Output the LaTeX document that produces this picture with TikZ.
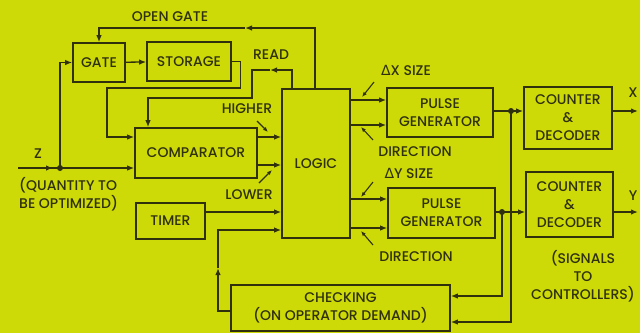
\documentclass[tikz,border=0pt]{standalone}
\usepackage{fontspec}
\setmainfont{Poppins}[UprightFont={* Medium}, BoldFont={* SemiBold}]
\newfontfamily\symfont{DejaVu Sans}
\usepackage{xcolor}
\usetikzlibrary{arrows.meta}
\definecolor{bg}{RGB}{205,218,8}
\definecolor{ink}{RGB}{48,48,12}

\begin{document}
\begin{tikzpicture}[
  x=1pt, y=-1pt, >={Latex[length=7pt,width=5.5pt]},
  font=\fontsize{14}{18}\selectfont, color=ink, text=ink,
  block/.style={draw, line width=1.6pt, align=center, inner sep=0pt},
  lbl/.style={inner sep=0pt, align=center},
  arrow/.style={->, line width=1.3pt},
  line/.style={line width=1.3pt},
  pointer/.style={->, line width=1.1pt, >={Latex[length=5pt,width=4pt]}},
  dot/.style={circle, fill=ink, inner sep=0pt, minimum size=6pt}
]
\fill[bg] (0,0) rectangle (640,333);
\useasboundingbox (0,0) rectangle (640,333);
% blocks
\node[block, minimum width=52pt, minimum height=39pt] (gate) at (99,62.5) {GATE};
\node[block, minimum width=84pt, minimum height=39pt] (storage) at (189,61.5) {STORAGE};
\node[block, minimum width=122pt, minimum height=50pt] (comp) at (196,153) {COMPARATOR};
\node[block, minimum width=68pt, minimum height=149pt] (logic) at (316,163.5) {LOGIC};
\node[block, minimum width=69pt, minimum height=36pt] (timer) at (170.5,221) {TIMER};
\node[block, minimum width=106pt, minimum height=49pt] (pgx) at (440,112.5) {PULSE\\GENERATOR};
\node[block, minimum width=107pt, minimum height=50pt] (pgy) at (441.5,213) {PULSE\\GENERATOR};
\node[block, minimum width=88pt, minimum height=62pt] (cntx) at (568,118) {COUNTER\\\&\\DECODER};
\node[block, minimum width=87pt, minimum height=65pt] (cnty) at (569.5,204.5) {COUNTER\\\&\\DECODER};
\node[block, minimum width=219pt, minimum height=46pt] (check) at (340.5,308) {CHECKING\\(ON OPERATOR DEMAND)};
% labels
\node[lbl] (zlbl) at (38,154) {Z};
\node[lbl, anchor=west, align=left] (qlbl) at (19,194) {(QUANTITY TO\\BE OPTIMIZED)};
\node[lbl] (openlbl) at (170,17) {OPEN GATE};
\node[lbl] (readlbl) at (271,55) {READ};
\node[lbl] (hilbl) at (247,109) {HIGHER};
\node[lbl] (lolbl) at (249,195) {LOWER};
\node[lbl] (dxlbl) at (406,70) {{\symfont Δ}X SIZE};
\node[lbl] (dirxlbl) at (415,152) {DIRECTION};
\node[lbl] (dylbl) at (409,173) {{\symfont Δ}Y SIZE};
\node[lbl] (dirylbl) at (416,257) {DIRECTION};
\node[lbl] (xlbl) at (633,93) {X};
\node[lbl] (ylbl) at (633,196) {Y};
\node[lbl] (siglbl) at (583,276) {(SIGNALS\\TO\\CONTROLLERS)};
% junctions
\coordinate (zin) at (18,168);
\coordinate (zdot) at (60,168);
\coordinate (xdot) at (511,111);
\coordinate (ydot) at (502,212);
\coordinate (xout) at (638,111);
\coordinate (yout) at (638,212);
% input Z
\draw[arrow] (zin) -- ++(35,0); \draw[line] (zin) -- (zdot);
\draw[arrow] (zdot) -- (zdot -| comp.west);
\draw[arrow] (zdot) |- (gate.west);
\draw[arrow] (gate) -- (storage);
\draw[arrow] (storage.east) -- ++(9,0) |- (107,88) |- (comp.west |- 0,137);
% feedback from logic
\draw[arrow] (logic.north -| 315,0) |- (245,28); \draw[arrow] (245,28) -| (gate.north);
\draw[arrow] (logic.north -| 292,0) |- (270,70); \draw[arrow] (270,70) -| (252,98) -| (comp.north -| 148,0);
% into logic
\draw[arrow] (comp.east |- 0,137) -- (logic.west |- 0,137);
\draw[arrow] (comp.east |- 0,165) -- (logic.west |- 0,165);
\draw[arrow] (timer.east |- 0,212) -- (logic.west |- 0,212);
\draw[arrow] (check.west |- 0,311) -| (218,268); \draw[arrow] (218,268) |- (logic.west |- 0,230);
% out of logic
\draw[arrow] (logic.east |- 0,100) -- (pgx.west |- 0,100);
\draw[arrow] (logic.east |- 0,125) -- (pgx.west |- 0,125);
\draw[arrow] (logic.east |- 0,199) -- (pgy.west |- 0,199);
\draw[arrow] (logic.east |- 0,228) -- (pgy.west |- 0,228);
% pointers
\foreach \xa/\ya/\xb/\yb in {257/121/268/132, 259/183/272/170, 374/82/362/97,
                            373/140/361/127, 373/182/361/197, 373/245/361/231}
  \draw[pointer] (\xa,\ya) -- (\xb,\yb);
% to counters
\draw[line] (pgx.east |- xdot) -- (xdot); \draw[arrow] (xdot) -- (cntx.west |- xdot);
\draw[line] (pgy.east |- ydot) -- (ydot); \draw[arrow] (ydot) -- (cnty.west |- ydot);
\draw[arrow] (cntx.east |- xout) -- (xout);
\draw[arrow] (cnty.east |- yout) -- (yout);
\draw[arrow] (ydot) |- (check.east |- 0,296);
\draw[arrow] (xdot) |- (check.east |- 0,322);
\node[dot] at (zdot) {}; \node[dot] at (xdot) {}; \node[dot] at (ydot) {};
\end{tikzpicture}
\end{document}
